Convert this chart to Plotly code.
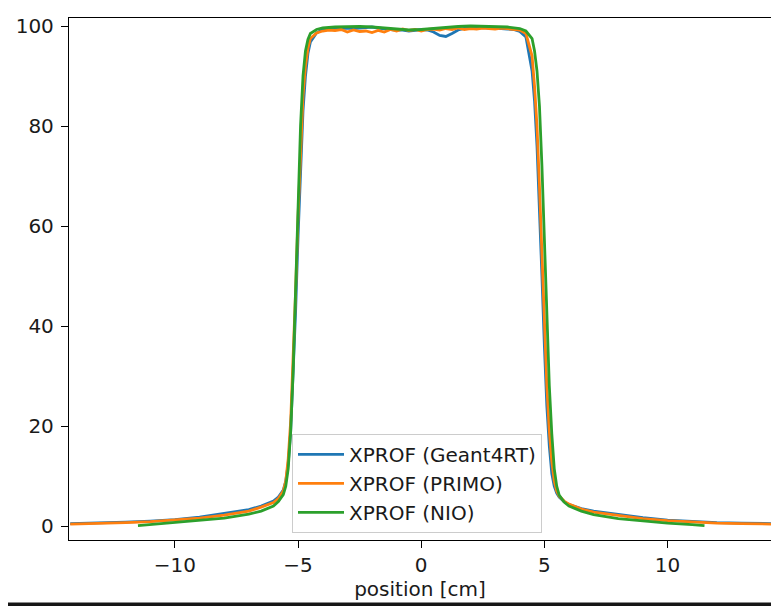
import plotly.graph_objects as go

# Positions [cm] for Geant4RT and PRIMO profiles
x_ref = [-14.25, -13.0, -12.0, -11.0, -10.0, -9.0, -8.0, -7.0, -6.5, -6.0, -5.8, -5.6, -5.5, -5.4, -5.3,
         -5.2, -5.1, -5.0, -4.9, -4.8, -4.7, -4.6, -4.5,
         -4.25, -4.0, -3.75, -3.5, -3.25, -3.0, -2.75, -2.5, -2.25, -2.0, -1.75, -1.5, -1.25, -1.0, -0.75,
         -0.5, -0.25, 0.0, 0.25, 0.5, 0.75, 1.0, 1.25, 1.5, 1.75, 2.0, 2.25, 2.5, 2.75, 3.0, 3.25, 3.5,
         3.75, 4.0, 4.25,
         4.5, 4.6, 4.7, 4.8, 4.9, 5.0, 5.1, 5.2, 5.3, 5.4, 5.5, 5.6, 5.8, 6.0, 6.5, 7.0, 8.0, 9.0, 10.0,
         11.0, 12.0, 13.0, 14.25]

geant4rt = [0.5, 0.6, 0.8, 1.0, 1.3, 1.8, 2.5, 3.3, 4.0, 5.0, 5.8, 7.2, 9.0, 12.5, 19,
            30, 43, 58, 72, 83, 90, 94.5, 96.8,
            98.6, 99.3, 99.5, 99.6, 99.5, 99.6, 99.5, 99.6, 99.7, 99.8, 99.6, 99.4, 99.3, 99.2, 99.2,
            99.0, 99.1, 99.3, 99.2, 98.8, 98.1, 97.9, 98.5, 99.2, 99.5, 99.6, 99.7, 99.7, 99.6, 99.6, 99.5, 99.4,
            99.3, 98.9, 97.8,
            91, 85, 76, 64, 50, 36, 24, 16, 10.5, 8.0, 6.6, 5.8, 4.9, 4.3, 3.5, 3.0, 2.3, 1.7, 1.2,
            0.9, 0.7, 0.6, 0.5]

primo = [0.4, 0.5, 0.7, 0.9, 1.2, 1.6, 2.2, 3.0, 3.8, 4.7, 5.5, 7.0, 9.0, 13.5, 21,
         33, 47, 62, 76, 86, 92, 95.5, 97.5,
         98.6, 99.0, 99.2, 99.1, 99.3, 98.8, 99.2, 98.9, 99.0, 98.7, 99.1, 98.8, 99.3, 99.0, 99.4,
         99.1, 99.3, 99.0, 99.3, 99.4, 99.2, 99.5, 99.3, 99.6, 99.3, 99.5, 99.4, 99.6, 99.5, 99.4, 99.6, 99.5,
         99.4, 99.2, 98.5,
         94, 88, 80, 68, 54, 40, 28, 19, 13, 9.0, 7.0, 6.0, 5.0, 4.4, 3.4, 2.8, 2.1, 1.5, 1.1,
         0.8, 0.6, 0.5, 0.4]

# Positions [cm] for NIO profile
x_nio = [-11.5, -11.0, -10.0, -9.0, -8.0, -7.0, -6.5, -6.0, -5.8, -5.6, -5.5, -5.4, -5.3, -5.2, -5.1,
         -5.0, -4.9, -4.8, -4.7, -4.6, -4.5,
         -4.25, -4.0, -3.5, -3.0, -2.5, -2.0, -1.5, -1.0, -0.5, 0.0, 0.5, 1.0, 1.5, 2.0, 2.5, 3.0, 3.5,
         4.0, 4.25,
         4.5, 4.6, 4.7, 4.8, 4.9, 5.0, 5.1, 5.2, 5.3, 5.4, 5.5, 5.6, 5.8, 6.0, 6.5, 7.0, 8.0, 9.0, 10.0,
         11.0, 11.5]

nio = [0.1, 0.3, 0.7, 1.1, 1.6, 2.4, 3.0, 4.0, 4.9, 6.3, 8.0, 11.5, 19, 31, 48,
       65, 80, 90, 95, 97.3, 98.5,
       99.3, 99.6, 99.8, 99.9, 99.9, 99.8, 99.6, 99.4, 99.2, 99.3, 99.5, 99.8, 99.9, 100.0, 99.9, 99.9, 99.8,
       99.5, 99.0,
       97.5, 95, 91, 84, 72, 57, 41, 28, 18.5, 11.5, 8.0, 6.2, 4.8, 4.0, 3.0, 2.3, 1.5, 1.0, 0.6,
       0.3, 0.1]

series = [
    ("XPROF (Geant4RT)", x_ref, geant4rt, "#1f77b4"),
    ("XPROF (PRIMO)", x_ref, primo, "#ff7f0e"),
    ("XPROF (NIO)", x_nio, nio, "#2ca02c"),
]

x_ticks = [-10, -5, 0, 5, 10]
y_ticks = [0, 20, 40, 60, 80, 100]

fig = go.Figure()
for i, (name, xs, ys, col) in enumerate(series):
    fig.add_trace(go.Scatter(x=xs, y=ys, mode="lines", name=name,
                             legendgroup=f"g{i}",
                             line=dict(color=col, width=2.8)))

# page has an 8px body margin, so the figure is shifted; compensate
OFF = 8
W, H = 779 - OFF, 606 - OFF
L, R, T, B = 69 - OFF, 8, 14 - OFF, 66
pw, ph = W - L - R, H - T - B
FS = 20

fig.update_layout(
    width=W, height=H,
    margin=dict(l=L, r=R, t=T, b=B),
    paper_bgcolor="#161616",
    plot_bgcolor="white",
    font=dict(family="DejaVu Sans", size=FS, color="#1a1a1a"),
    showlegend=True,
    legend=dict(
        x=(292 - 69) / pw, y=(540 - 433) / ph, xanchor="left", yanchor="top",
        bgcolor="rgba(255,255,255,0.8)", bordercolor="#cccccc", borderwidth=1,
        font=dict(family="DejaVu Sans", size=FS, color="#1a1a1a"),
        traceorder="grouped", tracegroupgap=0, itemwidth=46,
    ),
    shapes=[dict(type="rect", xref="paper", yref="paper",
                 x0=-L / pw - 0.01, x1=(W - L) / pw + 0.01,
                 y0=(540 - 603) / ph, y1=(540 + 20) / ph,
                 fillcolor="white", line=dict(width=0), layer="below")],
)

fig.update_xaxes(
    range=[-14.3, 14.2], tickvals=x_ticks, ticks="outside", ticklen=7, tickcolor="black",
    showline=True, linecolor="black", linewidth=1.3, mirror=True, showgrid=False, zeroline=False,
    title=dict(text="position [cm]", standoff=4, font=dict(size=FS)),
    tickfont=dict(size=FS),
)
fig.update_yaxes(
    range=[-2.78, 101.6], tickvals=y_ticks, ticks="outside", ticklen=7, tickcolor="black",
    showline=True, linecolor="black", linewidth=1.3, mirror=True, showgrid=False, zeroline=False,
    tickfont=dict(size=FS), ticklabelstandoff=3,
)

fig.write_html("out.html")
